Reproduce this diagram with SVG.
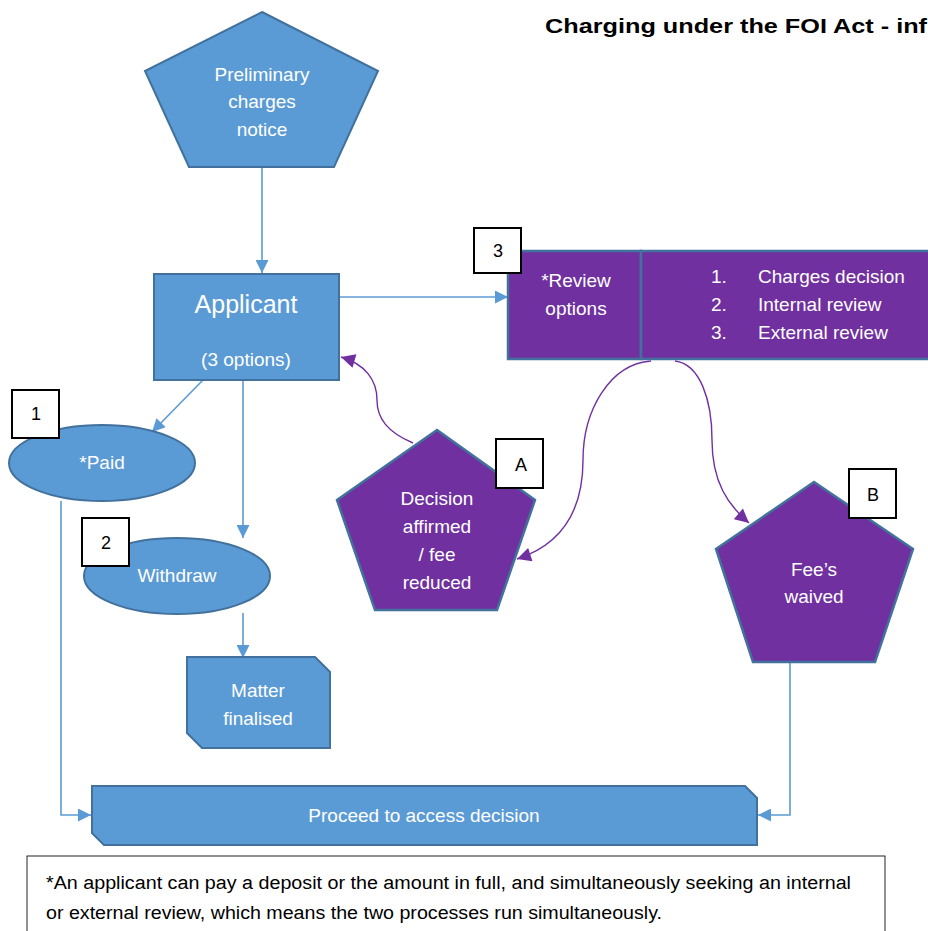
<svg xmlns="http://www.w3.org/2000/svg" width="928" height="931" viewBox="0 0 928 931">
<style>
.bl{fill:#5B9BD5;stroke:#41719C;stroke-width:2}
.pu{fill:#7030A0;stroke:#41719C;stroke-width:2.5}
.wt{fill:#fff;font-family:"Liberation Sans",Arial,sans-serif;font-size:18px;text-anchor:middle}
.w19{font-size:19px}
.w25{font-size:25px}
.st{text-anchor:start}
.tag{fill:#fff;stroke:#000;stroke-width:2}
.tt{fill:#000;font-family:"Liberation Sans",Arial,sans-serif;font-size:18px;text-anchor:middle}
.cb{fill:none;stroke:#5B9BD5;stroke-width:1.6}
.cp{fill:none;stroke:#7030A0;stroke-width:1.4}
.bk{fill:#000;font-family:"Liberation Sans",Arial,sans-serif;font-size:18px}
</style>
<defs>
<marker id="ab" viewBox="0 0 10 10" refX="10" refY="5" markerWidth="14" markerHeight="13" markerUnits="userSpaceOnUse" orient="auto"><path d="M0,0 L10,5 L0,10z" fill="#5B9BD5"/></marker>
<marker id="ap" viewBox="0 0 10 10" refX="10" refY="5" markerWidth="15" markerHeight="14" markerUnits="userSpaceOnUse" orient="auto"><path d="M0,0 L10,5 L0,10z" fill="#7030A0"/></marker>
</defs>
<rect width="928" height="931" fill="#fff"/>
<text x="545" y="33" font-family="'Liberation Sans',Arial,sans-serif" font-size="21" font-weight="bold" fill="#000" textLength="382" lengthAdjust="spacingAndGlyphs">Charging under the FOI Act - inf</text>

<g id="connectors">
<path class="cb" d="M262,168 V273" marker-end="url(#ab)"/>
<path class="cb" d="M340,297 H508" marker-end="url(#ab)"/>
<path class="cb" d="M203,380 L152,432" marker-end="url(#ab)"/>
<path class="cb" d="M243,380 V538" marker-end="url(#ab)"/>
<path class="cb" d="M61,501 V815 H91" marker-end="url(#ab)"/>
<path class="cb" d="M243,613 V658" marker-end="url(#ab)"/>
<path class="cb" d="M816,660 H790 V815 H758" marker-end="url(#ab)"/>
<path class="cp" d="M413,443 C387,432 377,418 377,400 C377,380 365,364 341,357" marker-end="url(#ap)"/>
<path class="cp" d="M651,361 C610,364 583,410 583,460 C583,512 560,545 517,559" marker-end="url(#ap)"/>
<path class="cp" d="M675,361 C700,364 712,400 712,440 C712,482 728,505 749,523" marker-end="url(#ap)"/>
</g>

<g id="preliminary">
<polygon class="bl" points="262,12 378,71 334,167 189,167 145,71"/>
<text class="wt w19" x="262" y="81">Preliminary</text>
<text class="wt w19" x="262" y="108">charges</text>
<text class="wt w19" x="262" y="136">notice</text>
</g>

<g id="applicant">
<rect class="bl" x="154" y="274" width="185" height="106"/>
<text class="wt w25" x="246" y="313">Applicant</text>
<text class="wt w19" x="246" y="366">(3 options)</text>
</g>

<g id="review">
<rect class="pu" x="508" y="251" width="133" height="108"/>
<rect class="pu" x="641" y="251" width="292" height="108"/>
<text class="wt w19" x="576" y="287">*Review</text>
<text class="wt w19" x="576" y="315">options</text>
<text class="wt w19 st" x="711" y="283">1.</text>
<text class="wt w19 st" x="758" y="283">Charges decision</text>
<text class="wt w19 st" x="711" y="311">2.</text>
<text class="wt w19 st" x="758" y="311">Internal review</text>
<text class="wt w19 st" x="711" y="339">3.</text>
<text class="wt w19 st" x="758" y="339">External review</text>
</g>
<g id="tag3">
<rect class="tag" x="474" y="228" width="47" height="45"/>
<text class="tt" x="498" y="257">3</text>
</g>

<g id="paid">
<ellipse class="bl" cx="102" cy="463" rx="93" ry="38"/>
<text class="wt w19" x="102" y="469">*Paid</text>
</g>
<g id="tag1">
<rect class="tag" x="12" y="390" width="47" height="48"/>
<text class="tt" x="36" y="420">1</text>
</g>

<g id="withdraw">
<ellipse class="bl" cx="177" cy="576" rx="93" ry="38"/>
<text class="wt w19" x="177" y="582">Withdraw</text>
</g>
<g id="tag2">
<rect class="tag" x="82" y="518" width="47" height="48"/>
<text class="tt" x="106" y="549">2</text>
</g>

<g id="matter">
<path class="bl" d="M187,657 H315 L330,672 V748 H202 L187,733 Z"/>
<text class="wt w19" x="258" y="697">Matter</text>
<text class="wt w19" x="258" y="725">finalised</text>
</g>

<g id="decision">
<polygon class="pu" points="437,430 535,500 497,610 375,610 337,500"/>
<text class="wt w19" x="437" y="505">Decision</text>
<text class="wt w19" x="437" y="533">affirmed</text>
<text class="wt w19" x="437" y="561">/ fee</text>
<text class="wt w19" x="437" y="589">reduced</text>
</g>
<g id="tagA">
<rect class="tag" x="496" y="439" width="47" height="49"/>
<text class="tt" x="521" y="471">A</text>
</g>

<g id="waived">
<polygon class="pu" points="814,482 913,549 875,662 753,662 716,549"/>
<text class="wt w19" x="814" y="576">Fee’s</text>
<text class="wt w19" x="814" y="603">waived</text>
</g>
<g id="tagB">
<rect class="tag" x="849" y="469" width="47" height="49"/>
<text class="tt" x="873" y="501">B</text>
</g>

<g id="proceed">
<path class="bl" d="M92,786 H745 L757,798 V845 H104 L92,833 Z"/>
<text class="wt w19" x="424" y="822">Proceed to access decision</text>
</g>

<g id="note">
<rect x="27" y="856" width="858" height="90" fill="#fff" stroke="#222" stroke-width="1"/>
<text class="bk" x="46" y="889" textLength="805" lengthAdjust="spacingAndGlyphs">*An applicant can pay a deposit or the amount in full, and simultaneously seeking an internal</text>
<text class="bk" x="46" y="919" textLength="616" lengthAdjust="spacingAndGlyphs">or external review, which means the two processes run simultaneously.</text>
</g>
</svg>
